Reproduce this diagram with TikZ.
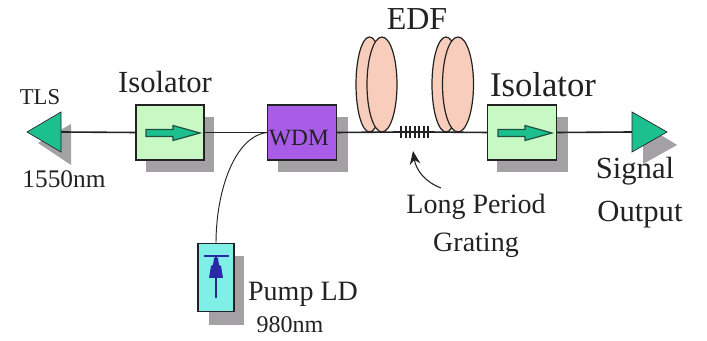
\documentclass[tikz,border=0pt]{standalone}
\usepackage{fontspec}
\setmainfont{Liberation Serif}
\usetikzlibrary{arrows.meta}
\definecolor{shade}{HTML}{A3A1A3}
\definecolor{isofill}{HTML}{C8F8C4}
\definecolor{wdmfill}{HTML}{A95CE8}
\definecolor{teal}{HTML}{1CC08E}
\definecolor{coil}{HTML}{F8CDBB}
\definecolor{ldfill}{HTML}{80EFE8}
\definecolor{ink}{HTML}{222222}
\definecolor{ldblue}{HTML}{2A2AA8}
\tikzset{
 x=0.75pt,y=-0.75pt,
 boxnode/.style={draw=ink,line width=1.2pt,minimum width=51pt,minimum height=41.5pt,inner sep=0pt,outer sep=0pt},
 shadowbox/.style={fill=shade,draw=none},
 fiber/.style={draw=ink,line width=1.2pt},
 thinfiber/.style={draw=ink,line width=0.7pt},
 coilshape/.style={draw=ink,fill=coil,line width=0.9pt},
 tri/.style={fill=teal,draw=ink,line width=0.5pt},
 isoarrow/.style={fill=teal,draw=ink!70!teal,line width=0.9pt},
 lab/.style={inner sep=0pt,text=ink,anchor=center}
}
\newcommand{\isoarrowat}[1]{\filldraw[isoarrow] (#1)++(-24,-3) -- ++(27,0) -- ++(0,-4) -- ++(27,7.5) -- ++(-27,7.5) -- ++(0,-4) -- ++(-27,0) -- cycle;}
\begin{document}
\begin{tikzpicture}
\useasboundingbox (0,0) rectangle (707,341);
\fill[white] (0,0) rectangle (707,341);
% shadows
\fill[shadowbox] (146,117) rectangle (214,172);
\fill[shadowbox] (278,117) rectangle (348,172);
\fill[shadowbox] (497,117) rectangle (568,172);
\fill[shadowbox] (209,256) rectangle (244,325);
\fill[shadowbox] (38,143) -- (71,124) -- (71,165) -- cycle;
\fill[shadowbox] (643,124) -- (677,145) -- (643,164) -- cycle;
% coordinates
\coordinate (tlstip) at (27,132);
\coordinate (tlsbase) at (61,132);
\coordinate (outbase) at (632,132);
\coordinate (grL) at (400,132);
\coordinate (grR) at (428,132);
% boxes
\node[boxnode,fill=isofill] (iso1) at (170,132.5) {};
\node[boxnode,fill=wdmfill,minimum width=52pt] (wdm) at (302,132.5) {};
\node[boxnode,fill=isofill,minimum width=52pt] (iso2) at (522,132.5) {};
\node[boxnode,fill=ldfill,minimum width=27pt,minimum height=51pt] (pump) at (216,277.5) {};
% fibres
\draw[fiber] (tlsbase) -- (iso1.west);
\draw[fiber] (iso1.east) -- (wdm.west);
\draw[thinfiber] (pump.north) .. controls (216,190) and (235,136) .. (wdm.west);
\draw[fiber] (iso2.east) -- (outbase);
% triangles
\filldraw[tri] (tlstip) -- (61,112) -- (61,152) -- cycle;
\filldraw[tri] (632,112) -- (667,132) -- (632,152) -- cycle;
% coils
\filldraw[coilshape] (369.5,84.5) ellipse [x radius=13.5,y radius=47.5];
\filldraw[coilshape] (382,84.5) ellipse [x radius=15,y radius=47.5];
\filldraw[coilshape] (446,84.5) ellipse [x radius=14,y radius=47.5];
\filldraw[coilshape] (458,84.5) ellipse [x radius=15.5,y radius=47.5];
\draw[fiber] (wdm.east) -- (grL);
\draw[fiber] (grR) -- (iso2.west);
% grating
\draw[fiber] (grL) -- (grR);
\foreach \gx in {400.5,405.5,410,414.5,419,423.5,428}
  \draw[ink,line width=1.5pt] (\gx,126) -- (\gx,138);
% isolator arrows
\isoarrowat{iso1}
\isoarrowat{iso2}
% pump symbol
\draw[draw=ldblue,line width=1.1pt] (204,256) -- (229,256);
\draw[draw=ldblue!70!ink,line width=0.8pt] (216,256) -- (216,298);
\fill[fill=ldblue] (214,258) -- (218,258) -- (219,265) -- (221,266) -- (223,278) -- (209,278) -- (211,266) -- (213,265) -- cycle;
% long period arrow
\coordinate (lpgtail) at (441,188);
\coordinate (lpghead) at (413,151);
\draw[ink,line width=0.8pt,-{Stealth[length=10pt,width=8pt]}] (lpgtail) .. controls (425,182) and (416,170) .. (lpghead);
% labels
\node[lab,font=\fontsize{23}{23}\selectfont] (isol1) at (165,82) {Isolator};
\node[lab,font=\fontsize{26}{26}\selectfont] (isol2) at (543,85) {Isolator};
\node[lab,font=\fontsize{17}{17}\selectfont] (tlslab) at (40,97) {TLS};
\node[lab,font=\fontsize{19}{19}\selectfont] (nm1) at (64,179) {1550nm};
\node[lab,font=\fontsize{17.5}{17.5}\selectfont] at (299,138) {WDM};
\node[lab,font=\fontsize{24}{24}\selectfont] (edf) at (417,19) {EDF};
\node[lab,font=\fontsize{23}{23}\selectfont] (sig) at (635,171) {Signal};
\node[lab,font=\fontsize{23}{23}\selectfont] (outp) at (640,215) {Output};
\node[lab,font=\fontsize{21}{21}\selectfont] (lp) at (476,207) {Long Period};
\node[lab,font=\fontsize{21}{21}\selectfont] (gr) at (476,245) {Grating};
\node[lab,font=\fontsize{21}{21}\selectfont] (pl) at (303,294) {Pump LD};
\node[lab,font=\fontsize{18}{18}\selectfont] (nm2) at (290,325) {980nm};
\end{tikzpicture}
\end{document}
